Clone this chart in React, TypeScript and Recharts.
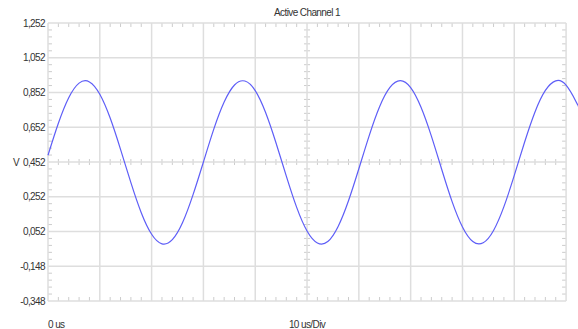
import { LineChart, Line, XAxis, YAxis, ReferenceLine } from "recharts";

// time in microseconds, voltage
const timeUs = [
  0, 2, 4, 6, 8, 10, 12, 14, 16, 18, 20, 22, 24, 26, 28, 30, 32, 34, 36, 38, 40, 42, 44, 46, 48, 50,
  52, 54, 56, 58, 60, 62, 64, 66, 68, 70, 72, 74, 76, 78, 80, 82, 84, 86, 88, 90, 92, 94, 96, 98,
  100, 102, 102.3,
];
const volts = [
  0.491, 0.675, 0.822, 0.906, 0.913, 0.842, 0.705, 0.525, 0.333, 0.16, 0.036, -0.019, 0.005, 0.105,
  0.264, 0.452, 0.641, 0.797, 0.895, 0.918, 0.863, 0.737, 0.563, 0.371, 0.191, 0.055, -0.014, -0.006,
  0.081, 0.229, 0.413, 0.604, 0.77, 0.881, 0.92, 0.88, 0.767, 0.601, 0.409, 0.224, 0.078, -0.006,
  -0.013, 0.058, 0.195, 0.375, 0.567, 0.74, 0.864, 0.919, 0.894, 0.795, 0.774,
];

const yTicks = [-0.348, -0.148, 0.052, 0.252, 0.452, 0.652, 0.852, 1.052, 1.252];
const xMajors = [0, 10, 20, 30, 40, 50, 60, 70, 80, 90, 100];
const xLabels = ["0 us", "10 us/Div"];

const data = timeUs.map((t, i) => ({ t, v: volts[i] }));

const Y_MIN = -0.348;
const Y_MAX = 1.252;
const X_MAX = 100;
const X_CENTER = 50;
const Y_CENTER = 0.452;

// five subdivisions per division
const minorX: number[] = [];
for (let i = 0; i < xMajors.length - 1; i++) {
  for (let k = 1; k < 5; k++) minorX.push(xMajors[i] + (k * 10) / 5);
}
const minorY: number[] = [];
for (let i = 0; i < yTicks.length - 1; i++) {
  for (let k = 1; k < 5; k++) minorY.push(+(yTicks[i] + (k * 0.2) / 5).toFixed(3));
}

const FONT = "'Liberation Sans', Arial, sans-serif";
const LS = -0.6;
const GRID = "#dedede";
const TICK = "#cccccc";
const TXT = "#333333";

// tick lengths in data units (~4px / ~3px)
const TY = 0.023;
const TY_C = 0.017;
const TX = 0.77;
const TX_C = 0.58;

const XTick = (props: any) => {
  const { x, y, payload } = props;
  const idx = payload.value === 0 ? 0 : 1;
  return (
    <text
      x={x}
      y={y + 27}
      textAnchor={idx === 0 ? "start" : "middle"}
      fontSize={10}
      fontFamily={FONT}
      letterSpacing={LS}
      fill={TXT}
    >
      {xLabels[idx]}
    </text>
  );
};

export default function App() {
  return (
    <div style={{ position: "absolute", left: 0, top: 0, width: 578, height: 329, background: "#fff" }}>
      <div
        style={{
          position: "absolute",
          left: 48,
          width: 518,
          top: 7,
          textAlign: "center",
          fontFamily: FONT,
          fontSize: 10,
          letterSpacing: LS,
          lineHeight: "12px",
          color: TXT,
        }}
      >
        Active Channel 1
      </div>
      <LineChart width={578} height={329} data={data} margin={{ top: 23, right: 0, bottom: 0, left: 0 }}>
        <XAxis
          dataKey="t"
          type="number"
          domain={[0, 102.3]}
          ticks={[0, 50]}
          height={28}
          axisLine={false}
          tickLine={false}
          tickSize={0}
          tickMargin={0}
          tick={<XTick />}
          interval={0}
        />
        <YAxis
          type="number"
          domain={[Y_MIN, Y_MAX]}
          ticks={yTicks}
          interval={0}
          width={48}
          axisLine={false}
          tickLine={false}
          tickSize={0}
          tickMargin={3}
          tickFormatter={(v: number) => v.toFixed(3).replace(".", ",")}
          tick={{ fontSize: 10, fontFamily: FONT, fill: TXT, letterSpacing: LS }}
          label={{ value: "V", position: "insideLeft", offset: 13, fontSize: 10, fontFamily: FONT, fill: TXT }}
        />

        {/* minor ticks on frame and centre lines */}
        {minorX.map((x) => (
          <ReferenceLine key={`tt${x}`} segment={[{ x, y: Y_MAX }, { x, y: Y_MAX - TY }]} stroke={TICK} />
        ))}
        {minorX.map((x) => (
          <ReferenceLine key={`tb${x}`} segment={[{ x, y: Y_MIN }, { x, y: Y_MIN + TY }]} stroke={TICK} />
        ))}
        {minorX.map((x) => (
          <ReferenceLine
            key={`tc${x}`}
            segment={[{ x, y: Y_CENTER - TY_C }, { x, y: Y_CENTER + TY_C }]}
            stroke={TICK}
          />
        ))}
        {minorY.map((y) => (
          <ReferenceLine key={`tl${y}`} segment={[{ x: 0, y }, { x: TX, y }]} stroke={TICK} />
        ))}
        {minorY.map((y) => (
          <ReferenceLine key={`tr${y}`} segment={[{ x: X_MAX - TX, y }, { x: X_MAX, y }]} stroke={TICK} />
        ))}
        {minorY.map((y) => (
          <ReferenceLine
            key={`tm${y}`}
            segment={[{ x: X_CENTER - TX_C, y }, { x: X_CENTER + TX_C, y }]}
            stroke={TICK}
          />
        ))}

        {/* major grid + frame */}
        {xMajors.map((x) => (
          <ReferenceLine key={`gx${x}`} segment={[{ x, y: Y_MIN }, { x, y: Y_MAX }]} stroke={GRID} strokeWidth={1.5} />
        ))}
        {yTicks.map((y) => (
          <ReferenceLine key={`gy${y}`} segment={[{ x: 0, y }, { x: X_MAX, y }]} stroke={GRID} strokeWidth={1.5} />
        ))}

        <Line
          dataKey="v"
          type="natural"
          stroke="#5e5ef7"
          strokeWidth={1.2}
          dot={false}
          activeDot={false}
          isAnimationActive={false}
        />
      </LineChart>
    </div>
  );
}
